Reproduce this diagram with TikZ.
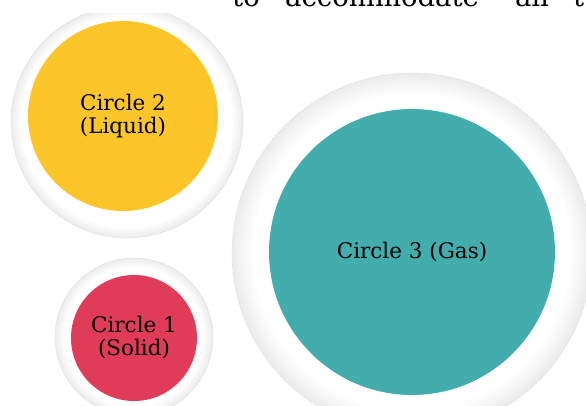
\documentclass[tikz,border=0pt]{standalone}
\usepackage{fontspec}
\setmainfont{DejaVu Serif}
\definecolor{liquidyellow}{RGB}{252,198,43}
\definecolor{solidred}{RGB}{224,60,90}
\definecolor{gasteal}{RGB}{67,173,174}
\newcommand{\myhalo}[4]{% cx, cy, outer r, grey band
  \foreach \k in {0,...,11}{%
    \pgfmathsetmacro\rr{#3-\k*#4/12}%
    \pgfmathsetmacro\gg{7.5*(1-\k/12)}%
    \fill[black!\gg] (#1,#2) circle[radius=\rr pt];
  }%
  \pgfmathsetmacro\rw{#3-#4}%
  \fill[white] (#1,#2) circle[radius=\rw pt];
  \draw[black!14,line width=0.4pt,dash pattern=on 3pt off 1pt] (#1,#2) circle[radius=#3 pt];
}
\tikzset{
  ball/.style={circle,inner sep=0pt,align=center,text=black,
    font=\fontsize{21.5}{23}\selectfont},
  toptext/.style={anchor=base west,inner sep=0pt,text=black,
    font=\fontsize{27.5}{30}\selectfont}
}
\begin{document}
\begin{tikzpicture}[x=1pt,y=-1pt]
\useasboundingbox (0,0) rectangle (586,406);
% halos
\begin{scope}
  \clip (0,14) rectangle (586,406);
  \myhalo{127}{122}{116}{10}
\end{scope}
\myhalo{134}{337}{79}{9}
\myhalo{412}{253}{180}{21}
% circles
\node[ball,fill=liquidyellow,minimum size=190pt] (c2) at (123,116) {Circle 2\\(Liquid)};
\node[ball,fill=solidred,minimum size=126pt] (c1) at (134,338) {Circle 1\\(Solid)};
\node[ball,fill=gasteal,minimum size=286pt] (c3) at (412,252) {Circle 3 (Gas)};
% top text (cut off)
\node[toptext] (w1) at (232,7) {to};
\node[toptext] (w2) at (285,7) {accommodate};
\node[toptext] (w3) at (515,7) {all};
\node[toptext] (w4) at (573,7) {t};
\end{tikzpicture}
\end{document}
